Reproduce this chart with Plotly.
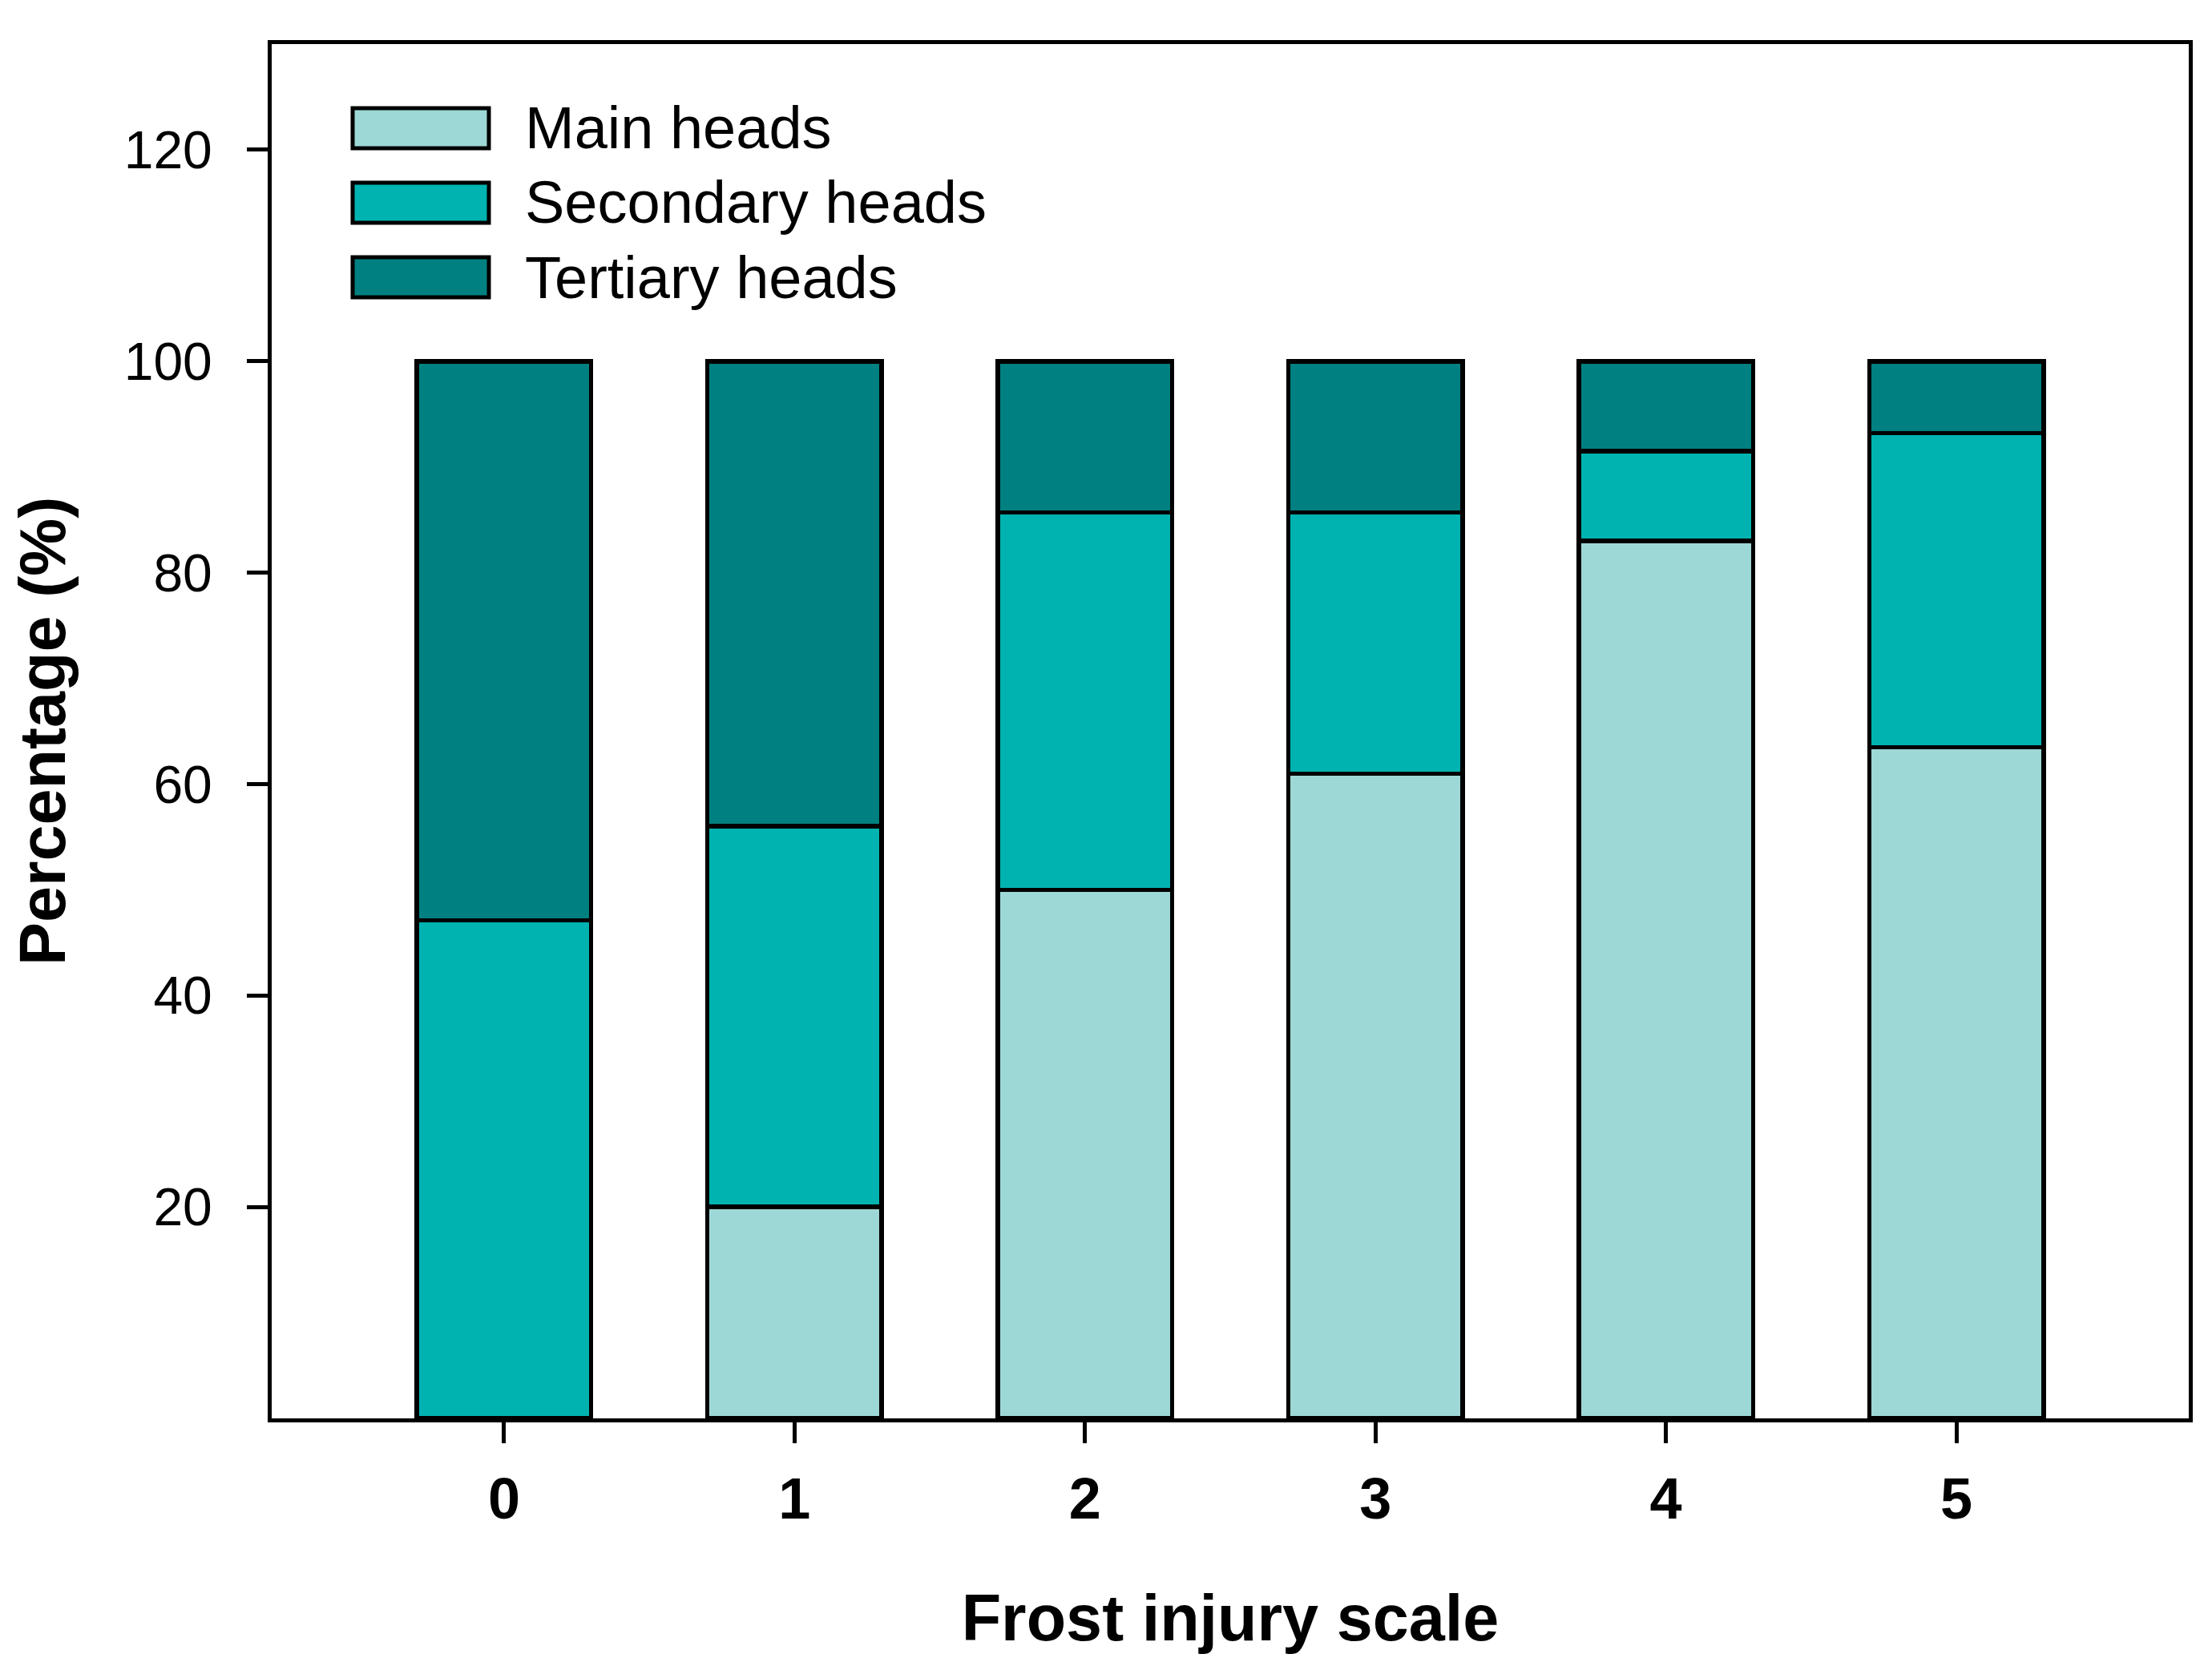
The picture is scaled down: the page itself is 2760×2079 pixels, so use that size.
import plotly.graph_objects as go

categories = [0, 1, 2, 3, 4, 5]
main_heads = [0, 20, 50, 61, 83, 63.5]
secondary_heads = [47.1, 36, 35.7, 24.7, 8.5, 29.7]
tertiary_heads = [52.9, 44, 14.3, 14.3, 8.5, 6.8]
series_names = ["Main heads", "Secondary heads", "Tertiary heads"]
y_tick_values = [20, 40, 60, 80, 100, 120]
y_tick_labels = ["20", "40", "60", "80", "100", "120"]
x_tick_labels = ["0", "1", "2", "3", "4", "5"]

colors = ["#9DD8D6", "#00B3B1", "#008080"]
FONT = "Liberation Sans, Arial, sans-serif"

W, H = 2760, 2079
L, R, T, B = 331, 37, 47, 317

fig = go.Figure()
for name, vals, col in zip(series_names, [main_heads, secondary_heads, tertiary_heads], colors):
    fig.add_trace(go.Bar(
        x=categories, y=vals, name=name, width=0.6,
        marker=dict(color=col, line=dict(color="black", width=5.5)),
        showlegend=False,
    ))

fig.update_layout(
    width=W, height=H,
    margin=dict(l=L, r=R, t=T, b=B, autoexpand=False),
    barmode="stack",
    plot_bgcolor="white", paper_bgcolor="white",
    font=dict(family=FONT, color="black"),
)

fig.update_xaxes(
    range=[-0.8, 5.8],
    tickmode="array", tickvals=categories, ticktext=x_tick_labels,
    tickfont=dict(family=FONT, size=72, weight="bold"),
    ticks="outside", ticklen=26, tickwidth=4.5, tickcolor="black",
    ticklabelstandoff=8,
    showline=True, linewidth=5, linecolor="black", mirror=True,
    showgrid=False, zeroline=False,
    title=dict(text="Frost injury scale", font=dict(family=FONT, size=81, weight="bold"), standoff=82),
)
fig.update_yaxes(
    range=[0, 130],
    tickmode="array", tickvals=y_tick_values, ticktext=y_tick_labels,
    tickfont=dict(family=FONT, size=66),
    ticks="outside", ticklen=26, tickwidth=4.5, tickcolor="black",
    ticklabelstandoff=30,
    showline=True, linewidth=5, linecolor="black", mirror=True,
    showgrid=False, zeroline=False,
    title=dict(text="Percentage (%)", font=dict(family=FONT, size=81, weight="bold"), standoff=60),
)

# manual legend (large boxes as in the reference)
pw = W - L - R
ph = H - T - B
def px_x(px):
    return (px - L) / pw
def px_y(py):
    return (H - B - py) / ph

rows = [(127, 177), (220, 270), (313, 363)]
for (y0, y1), name, col in zip(rows, series_names, colors):
    fig.add_shape(type="rect", xref="paper", yref="paper",
                  x0=px_x(432), x1=px_x(602), y0=px_y(y1), y1=px_y(y0),
                  fillcolor=col, line=dict(color="black", width=5))
    fig.add_annotation(xref="paper", yref="paper", x=px_x(645), y=px_y((y0 + y1) / 2),
                       text=name, showarrow=False, xanchor="left", yanchor="middle",
                       font=dict(family=FONT, size=74, color="black"))

fig.write_html("out.html")
